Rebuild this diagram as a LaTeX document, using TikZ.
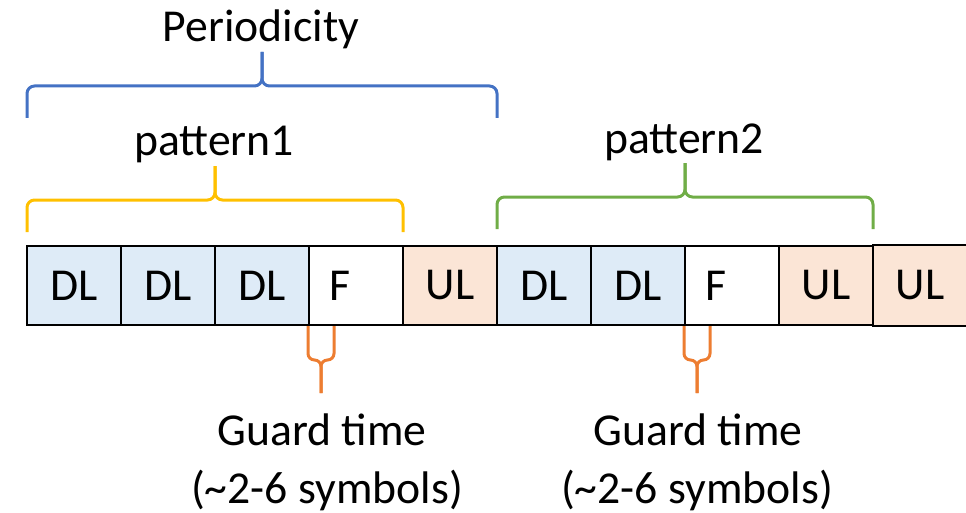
\documentclass[tikz,border=0pt]{standalone}
\usepackage{fontspec}
\setmainfont{Carlito}
\usepackage{xcolor}
\usepackage{tikz}
\usetikzlibrary{calc}

\definecolor{dlfill}{HTML}{DEEBF7}
\definecolor{ulfill}{HTML}{FBE5D6}
\definecolor{perblue}{HTML}{4472C4}
\definecolor{patyellow}{HTML}{FFC000}
\definecolor{patgreen}{HTML}{70AD47}
\definecolor{guardorange}{HTML}{ED7D31}

\begin{document}
\begin{tikzpicture}[
        cell/.style={minimum width=1.88cm, minimum height=1.58cm, inner sep=0pt, line width=0.04cm},
        bracket/.style={line width=0.06cm, rounded corners=0.15cm},
        every node/.style={font=\fontsize{26}{33}\selectfont}]
            \useasboundingbox (0,0) rectangle (19.32,10.24);
            % slots of the frame
            \node[cell, fill=ulfill] (c10) at ({1.48+9*1.88},4.53) {UL};
            \draw[line width=0.04cm] (c10.north west) -- (c10.north east);
            \draw[line width=0.04cm] (c10.south west) -- (c10.south east);
            \foreach \i/\txt/\f in {1/DL/dlfill,2/DL/dlfill,3/DL/dlfill,4/{F\kern0.64cm}/white,5/UL/ulfill,6/DL/dlfill,7/DL/dlfill,8/{F\kern0.64cm}/white,9/UL/ulfill} {
                \node[cell, draw, fill=\f] (c\i) at ({1.48+(\i-1)*1.88},4.53) {\txt};
            }
            % braces above
            \coordinate (perL) at (0.54,8.52);
            \coordinate (perR) at (9.94,8.52);
            \coordinate (p1L) at (0.54,6.24);
            \coordinate (p1R) at (8.06,6.24);
            \coordinate (p2L) at (9.94,6.30);
            \coordinate (p2R) at (17.46,6.30);
            \foreach \l/\r/\col in {perL/perR/perblue,p1L/p1R/patyellow,p2L/p2R/patgreen} {
                \draw[bracket, color=\col] ($(\l)+(0,-0.64)$) -- (\l) -- ($(\l)!0.5!(\r)$) -- ($(\l)!0.5!(\r)+(0,0.68)$);
                \draw[bracket, color=\col] ($(\r)+(0,-0.64)$) -- (\r) -- ($(\l)!0.5!(\r)$) -- ($(\l)!0.5!(\r)+(0,0.68)$);
            }
            \node[anchor=base] (per) at (5.22,9.40) {Periodicity};
            \node[anchor=base] (pat1) at (4.28,7.14) {pattern1};
            \node[anchor=base] (pat2) at (13.68,7.18) {pattern2};
            % guard braces below the flexible slots
            \foreach \c in {c4,c8} {
                \draw[bracket, color=guardorange, rounded corners=0.13cm] (\c.south west) -- ($(\c.south west)+(0,-0.68)$) -- ($(\c.south west)+(0.26,-0.68)$) -- ($(\c.south west)+(0.26,-1.34)$);
                \draw[bracket, color=guardorange, rounded corners=0.13cm] ($(\c.south west)+(0.52,0)$) -- ($(\c.south west)+(0.52,-0.68)$) -- ($(\c.south west)+(0.26,-0.68)$) -- ($(\c.south west)+(0.26,-1.34)$);
            }
            \node[anchor=base] (gt1) at (6.44,1.34) {Guard time};
            \node[anchor=base] (gs1) at (6.54,0.18) {(\textasciitilde 2-6 symbols)};
            \node[anchor=base] (gt2) at (13.96,1.34) {Guard time};
            \node[anchor=base] (gs2) at (13.94,0.18) {(\textasciitilde 2-6 symbols)};
        \end{tikzpicture}
\end{document}
